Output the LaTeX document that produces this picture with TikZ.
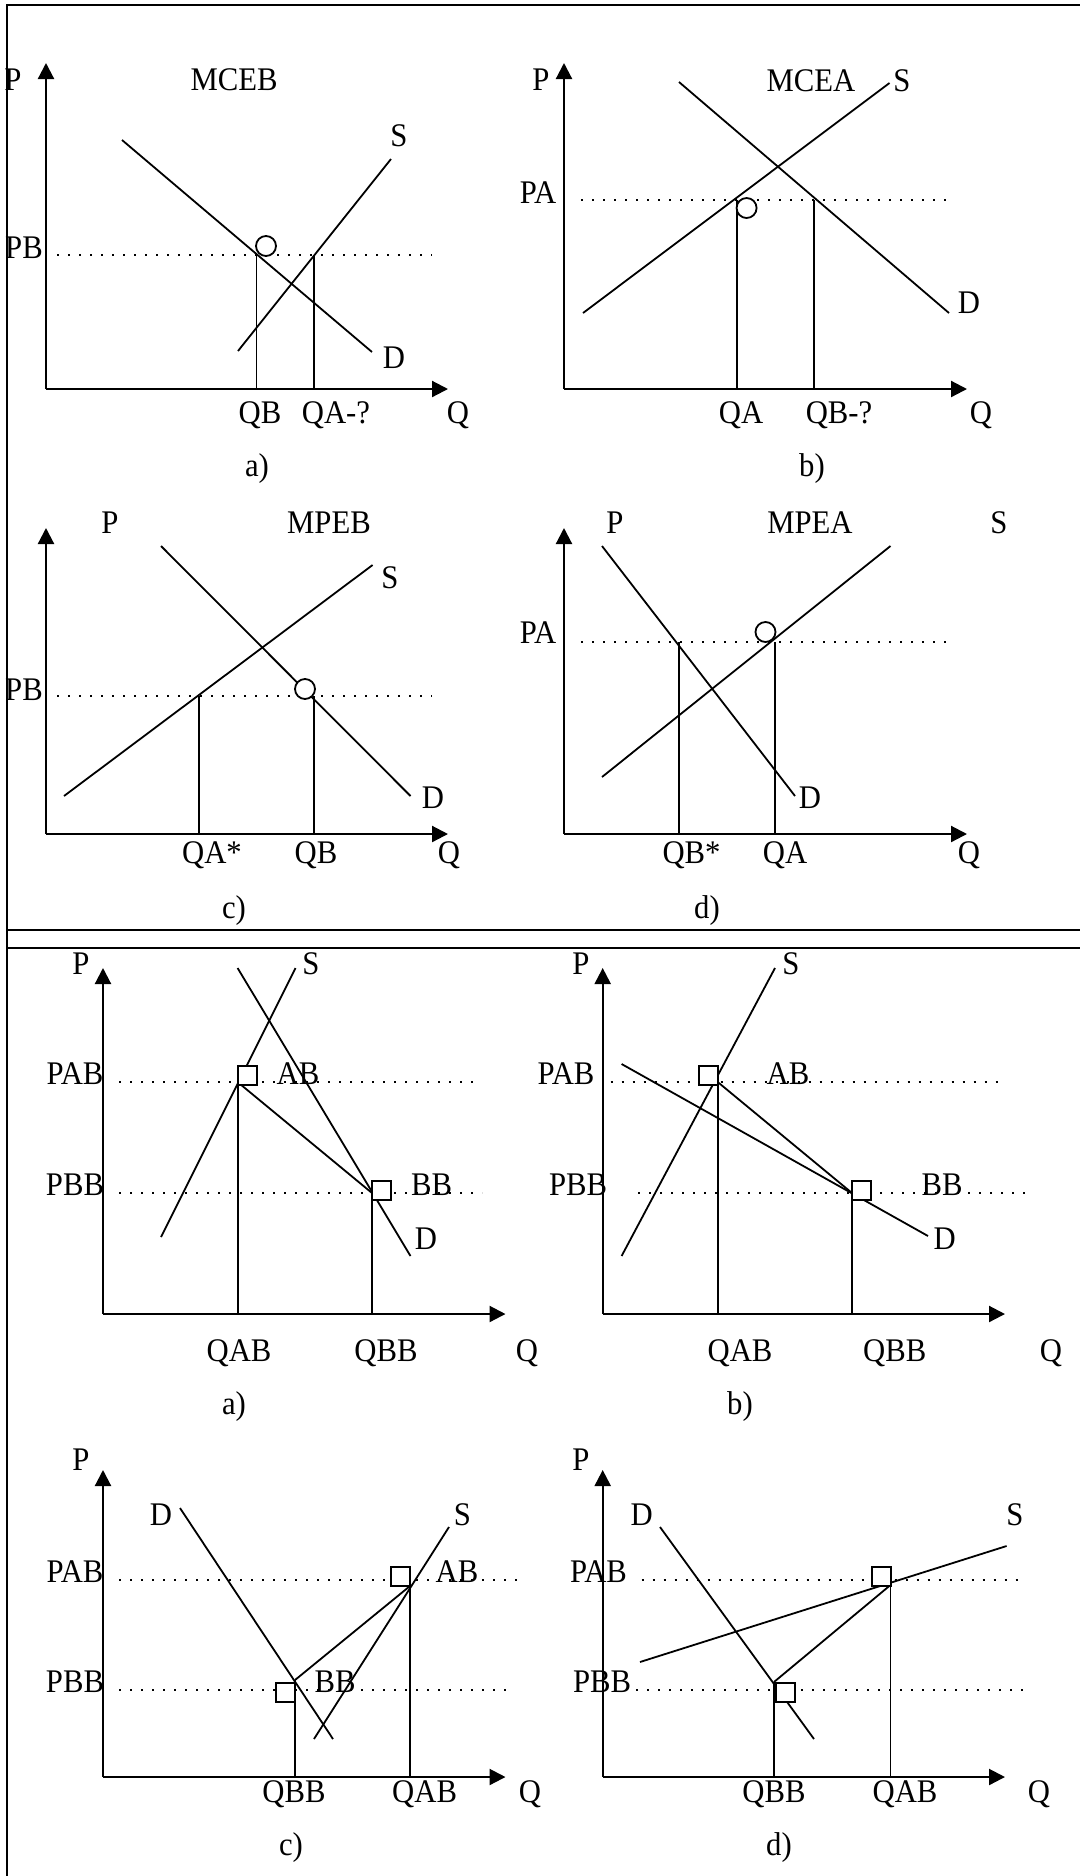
\documentclass[tikz,border=0pt]{standalone}
\usepackage{fontspec}
\setmainfont{Liberation Serif}
\newfontfamily\lblfont[FakeStretch=0.93]{Liberation Serif}
\usetikzlibrary{arrows.meta}

\begin{document}
\begin{tikzpicture}[x=0.5pt,y=-0.5pt,
    frame/.style={line width=1.2pt},
    axis/.style={line width=1.1pt,-{Triangle[length=8pt,width=8pt]}},
    curve/.style={line width=0.9pt},
    guide/.style={line width=0.9pt},
    level/.style={line width=1.3pt,dash pattern=on 1.2pt off 4.3pt},
    ring/.style={circle,draw,line width=0.9pt,fill=white,inner sep=0pt,minimum size=10pt},
    sq/.style={rectangle,draw,line width=1pt,fill=white,inner sep=0pt,minimum size=9.5pt},
    lbl/.style={anchor=base,inner sep=0pt,font=\lblfont\fontsize{16.5}{20}\selectfont}]

  \useasboundingbox (0,0) rectangle (1080,1876);

  % frame
  \draw[frame] (7,1876) -- (7,5) -- (1080,5);
  \draw[frame] (7,930) -- (1080,930);
  \draw[frame] (7,948) -- (1080,948);

  % ---------- top a) ----------
  \coordinate (taO) at (46,389);
  \coordinate (taB) at (256.5,255);
  \coordinate (taA) at (314,255);
  \draw[axis] (taO) -- (46,63);
  \draw[axis] (taO) -- (448,389);
  \draw[level] (57,255) -- (432,255);
  \draw[curve] (122,140) -- (372,352);
  \draw[curve] (238,351) -- (391,159);
  \draw[guide] (taB) -- (taB |- taO);
  \draw[guide] (taA) -- (taA |- taO);
  \node[ring] (taR) at (266,246) {};
  \node[lbl] (taP) at (13,90) {P};
  \node[lbl] (taT) at (234,90) {MCEB};
  \node[lbl] (taS) at (399,146) {S};
  \node[lbl] (taD) at (394,368) {D};
  \node[lbl] (taPB) at (24,258) {PB};
  \node[lbl] (taQB) at (260,423) {QB};
  \node[lbl] (taQA) at (336,423) {QA-?};
  \node[lbl] (taQ) at (458,423) {Q};
  \node[lbl] (taL) at (257,476) {a)};

  % ---------- top b) ----------
  \coordinate (tbO) at (564,389);
  \coordinate (tbA) at (736.6,200);
  \coordinate (tbB) at (814,200);
  \draw[axis] (tbO) -- (564,63);
  \draw[axis] (tbO) -- (967,389);
  \draw[level] (581,200) -- (947,200);
  \draw[curve] (583,313) -- (889.5,83);
  \draw[curve] (679,82) -- (949,313);
  \draw[guide] (tbA) -- (tbA |- tbO);
  \draw[guide] (tbB) -- (tbB |- tbO);
  \node[ring] (tbR) at (746.6,208) {};
  \node[lbl] (tbP) at (541,90) {P};
  \node[lbl] (tbT) at (811,91) {MCEA};
  \node[lbl] (tbS) at (902,91) {S};
  \node[lbl] (tbD) at (969,313) {D};
  \node[lbl] (tbPA) at (538,203) {PA};
  \node[lbl] (tbQA) at (741,423) {QA};
  \node[lbl] (tbQB) at (839,423) {QB-?};
  \node[lbl] (tbQ) at (981,423) {Q};
  \node[lbl] (tbL) at (812,476) {b)};

  % ---------- top c) ----------
  \coordinate (tcO) at (46,834);
  \coordinate (tcA) at (199,696);
  \coordinate (tcB) at (314,696);
  \draw[axis] (tcO) -- (46,528);
  \draw[axis] (tcO) -- (448,834);
  \draw[level] (57,696) -- (432,696);
  \draw[curve] (161,546) -- (410.5,796);
  \draw[curve] (64,796) -- (372.6,565);
  \draw[guide] (tcA) -- (tcA |- tcO);
  \draw[guide] (tcB) -- (tcB |- tcO);
  \node[ring] (tcR) at (305,689) {};
  \node[lbl] (tcP) at (110,533) {P};
  \node[lbl] (tcT) at (329,533) {MPEB};
  \node[lbl] (tcS) at (390,588) {S};
  \node[lbl] (tcD) at (433,808) {D};
  \node[lbl] (tcPB) at (24,700) {PB};
  \node[lbl] (tcQA) at (212,863) {QA*};
  \node[lbl] (tcQB) at (316,863) {QB};
  \node[lbl] (tcQ) at (449,863) {Q};
  \node[lbl] (tcL) at (234,918) {c)};

  % ---------- top d) ----------
  \coordinate (tdO) at (564,834);
  \coordinate (tdB) at (679,642);
  \coordinate (tdA) at (775,642);
  \draw[axis] (tdO) -- (564,528);
  \draw[axis] (tdO) -- (967,834);
  \draw[level] (581,642) -- (947,642);
  \draw[curve] (602,546) -- (795,796);
  \draw[curve] (602,777) -- (890.5,546);
  \draw[guide] (tdB) -- (tdB |- tdO);
  \draw[guide] (tdA) -- (tdA |- tdO);
  \node[ring] (tdR) at (765.5,632) {};
  \node[lbl] (tdP) at (615,533) {P};
  \node[lbl] (tdT) at (810,533) {MPEA};
  \node[lbl] (tdS) at (999,533) {S};
  \node[lbl] (tdD) at (810,808) {D};
  \node[lbl] (tdPA) at (538,643) {PA};
  \node[lbl] (tdQB) at (691.5,863) {QB*};
  \node[lbl] (tdQA) at (785,863) {QA};
  \node[lbl] (tdQ) at (969,863) {Q};
  \node[lbl] (tdL) at (707,918) {d)};

  % ---------- bottom a) ----------
  \coordinate (baO) at (103,1314);
  \coordinate (baAB) at (237.6,1082);
  \coordinate (baBB) at (372,1193);
  \draw[axis] (baO) -- (103,968);
  \draw[axis] (baO) -- (505.5,1314);
  \draw[level] (119,1082) -- (477,1082);
  \draw[level] (119,1193) -- (482,1193);
  \draw[curve] (161,1237) -- (295.5,968);
  \draw[curve] (237.6,968) -- (410.5,1256);
  \draw[curve] (baAB) -- (baBB);
  \draw[guide] (baAB) -- (baAB |- baO);
  \draw[guide] (baBB) -- (baBB |- baO);
  \node[sq] (baSA) at (247,1075) {};
  \node[sq] (baSB) at (381.5,1190.5) {};
  \node[lbl] (baP) at (81,974) {P};
  \node[lbl] (baS) at (311,974) {S};
  \node[lbl] (baPA) at (75,1084) {PAB};
  \node[lbl] (baAl) at (298,1084) {AB};
  \node[lbl] (baPB) at (75,1195) {PBB};
  \node[lbl] (baBl) at (431.5,1195) {BB};
  \node[lbl] (baD) at (426,1249) {D};
  \node[lbl] (baQA) at (239,1361) {QAB};
  \node[lbl] (baQB) at (386,1361) {QBB};
  \node[lbl] (baQ) at (527,1361) {Q};
  \node[lbl] (baL) at (234,1414) {a)};

  % ---------- bottom b) ----------
  \coordinate (bbO) at (602.7,1314);
  \coordinate (bbAB) at (717.7,1082);
  \coordinate (bbBB) at (852,1193);
  \draw[axis] (bbO) -- (602.7,968);
  \draw[axis] (bbO) -- (1005,1314);
  \draw[level] (610.6,1082) -- (998,1082);
  \draw[level] (638,1193) -- (1032,1193);
  \draw[curve] (621.6,1256) -- (775,968);
  \draw[curve] (621.6,1064) -- (928,1236);
  \draw[curve] (bbAB) -- (bbBB);
  \draw[guide] (bbAB) -- (bbAB |- bbO);
  \draw[guide] (bbBB) -- (bbBB |- bbO);
  \node[sq] (bbSA) at (708.5,1075) {};
  \node[sq] (bbSB) at (861.5,1190.5) {};
  \node[lbl] (bbP) at (581,974) {P};
  \node[lbl] (bbS) at (791,974) {S};
  \node[lbl] (bbPA) at (566,1084) {PAB};
  \node[lbl] (bbAl) at (788,1084) {AB};
  \node[lbl] (bbPB) at (578,1195) {PBB};
  \node[lbl] (bbBl) at (942,1195) {BB};
  \node[lbl] (bbD) at (944.6,1249) {D};
  \node[lbl] (bbQA) at (740,1361) {QAB};
  \node[lbl] (bbQB) at (894.7,1361) {QBB};
  \node[lbl] (bbQ) at (1051,1361) {Q};
  \node[lbl] (bbL) at (740,1414) {b)};

  % ---------- bottom c) ----------
  \coordinate (bcO) at (103,1777);
  \coordinate (bcAB) at (410,1586);
  \coordinate (bcBB) at (295,1680);
  \draw[axis] (bcO) -- (103,1470);
  \draw[axis] (bcO) -- (505.5,1777);
  \draw[level] (119,1580) -- (516.5,1580);
  \draw[level] (119,1690) -- (513,1690);
  \draw[curve] (180,1508) -- (333,1739);
  \draw[curve] (314,1739) -- (449,1527);
  \draw[curve] (bcAB) -- (bcBB);
  \draw[guide] (bcAB) -- (bcAB |- bcO);
  \draw[guide] (bcBB) -- (bcBB |- bcO);
  \node[sq] (bcSA) at (400.5,1576.5) {};
  \node[sq] (bcSB) at (285,1692) {};
  \node[lbl] (bcP) at (81,1470) {P};
  \node[lbl] (bcD) at (161,1525) {D};
  \node[lbl] (bcS) at (462.5,1525) {S};
  \node[lbl] (bcPA) at (75,1582) {PAB};
  \node[lbl] (bcAl) at (457,1582) {AB};
  \node[lbl] (bcPB) at (75,1692) {PBB};
  \node[lbl] (bcBl) at (335,1692) {BB};
  \node[lbl] (bcQB) at (294,1802) {QBB};
  \node[lbl] (bcQA) at (424.6,1802) {QAB};
  \node[lbl] (bcQ) at (530,1802) {Q};
  \node[lbl] (bcL) at (291,1855) {c)};

  % ---------- bottom d) ----------
  \coordinate (bdO) at (602.7,1777);
  \coordinate (bdAB) at (890.5,1585);
  \coordinate (bdBB) at (774,1682);
  \draw[axis] (bdO) -- (602.7,1470);
  \draw[axis] (bdO) -- (1005,1777);
  \draw[level] (641.6,1580) -- (1018.6,1580);
  \draw[level] (636,1690) -- (1024,1690);
  \draw[curve] (660,1527) -- (814,1739);
  \draw[curve] (640,1662) -- (1006.6,1546);
  \draw[curve] (bdAB) -- (bdBB);
  \draw[guide] (bdAB) -- (bdAB |- bdO);
  \draw[guide] (bdBB) -- (bdBB |- bdO);
  \node[sq] (bdSA) at (881,1576.5) {};
  \node[sq] (bdSB) at (785,1692) {};
  \node[lbl] (bdP) at (581,1470) {P};
  \node[lbl] (bdD) at (641.6,1525) {D};
  \node[lbl] (bdS) at (1015,1525) {S};
  \node[lbl] (bdPA) at (598.5,1582) {PAB};
  \node[lbl] (bdPB) at (602,1692) {PBB};
  \node[lbl] (bdQB) at (774,1802) {QBB};
  \node[lbl] (bdQA) at (905,1802) {QAB};
  \node[lbl] (bdQ) at (1039,1802) {Q};
  \node[lbl] (bdL) at (779,1855) {d)};

\end{tikzpicture}
\end{document}
